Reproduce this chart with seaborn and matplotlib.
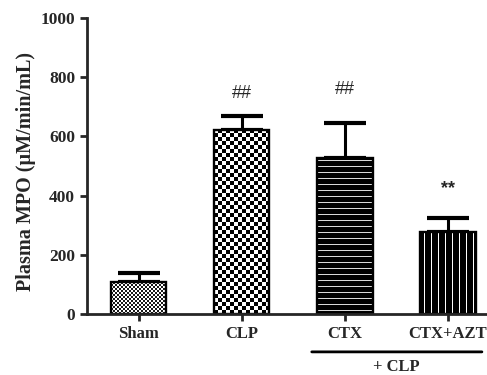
import numpy as np
import pandas as pd
import matplotlib
matplotlib.use("Agg")
import matplotlib.pyplot as plt
import seaborn as sns

# Data
groups = ['Sham', 'CLP', 'CTX', 'CTX+AZT']
mpo_mean = [107, 623, 527, 277]
mpo_err = [33, 45, 117, 47]
marks = ['', '##', '##', '**']
mark_y = [0, 745, 758, 425]

df = pd.DataFrame({'group': groups, 'mpo': mpo_mean})

sns.set_style('ticks')
plt.rcParams['font.family'] = ['Liberation Serif', 'DejaVu Serif']

fig = plt.figure(figsize=(4.87, 3.75), dpi=100)
ax = fig.add_axes([0.1786, 0.1627, 0.83, 0.7893])

sns.barplot(data=df, x='group', y='mpo', color='white', width=0.54,
            edgecolor='black', linewidth=1.7, errorbar=None, ax=ax, zorder=2)
for p in ax.patches:
    p.set_facecolor('none')

ax.errorbar(range(len(groups)), mpo_mean, yerr=[np.zeros(len(groups)), mpo_err],
            fmt='none', ecolor='black', elinewidth=2.2, capsize=15, capthick=3, zorder=1)

ax.set_ylim(0, 1000)
ax.set_xlim(-0.5, 3.42)
ax.set_yticks([0, 200, 400, 600, 800, 1000])
ax.set_ylabel('Plasma MPO (µM/min/mL)', fontsize=14.5, fontweight='bold')
ax.yaxis.set_label_coords(-0.125, 0.48)
ax.set_xlabel('')

for lab in ax.get_yticklabels():
    lab.set_fontweight('bold')
    lab.set_fontsize(12.5)
for lab in ax.get_xticklabels():
    lab.set_fontweight('bold')
    lab.set_fontsize(12)

ax.tick_params(width=2, length=5)
ax.spines['left'].set_linewidth(2)
ax.spines['bottom'].set_linewidth(2)
sns.despine(ax=ax)


def make_pattern(kind, w, h):
    yy, xx = np.mgrid[0:h, 0:w]
    if kind == 'fine':
        img = ((xx // 2 + yy // 2) % 2 == 0)
        img = np.where(img, 0.1, 1.0)
    elif kind == 'coarse':
        img = ((xx // 4 + yy // 4) % 2 == 0)
        img = np.where(img, 0.0, 1.0)
    elif kind == 'hlines':
        img = np.where(yy % 6 == 3, 0.85, 0.0)
    else:
        img = np.where(xx % 7 == 4, 1.0, 0.0)
    return img


kinds = ['fine', 'coarse', 'hlines', 'vlines']
fig.canvas.draw()
for patch, kind in zip(ax.patches, kinds):
    bb = patch.get_window_extent()
    w, h = int(round(bb.width)), int(round(bb.height))
    x0, y0 = patch.get_x(), patch.get_y()
    img = make_pattern(kind, w, h)
    im = ax.imshow(img, cmap='gray', vmin=0, vmax=1, interpolation='nearest',
                   extent=[x0, x0 + patch.get_width(), y0, y0 + patch.get_height()],
                   origin='lower', aspect='auto', zorder=1.5)
    im.set_clip_path(patch)

ax.set_xlim(-0.5, 3.42)
ax.set_ylim(0, 1000)

for i, (m, my) in enumerate(zip(marks, mark_y)):
    if m:
        ax.text(i, my, m, ha='center', va='center', fontsize=13,
                fontweight='bold' if m == '**' else 'normal',
                family=['Liberation Sans', 'DejaVu Sans'])

# "+ CLP" bracket under the two treated groups
ax.annotate('', xy=(1.68, -0.128), xytext=(3.33, -0.128), xycoords=('data', 'axes fraction'),
            arrowprops=dict(arrowstyle='-', lw=2, color='black', shrinkA=0, shrinkB=0))
ax.text(2.5, -0.178, '+ CLP', transform=ax.get_xaxis_transform(), ha='center', va='center',
        fontsize=12, fontweight='bold')

fig.savefig('out.png', dpi=100)
